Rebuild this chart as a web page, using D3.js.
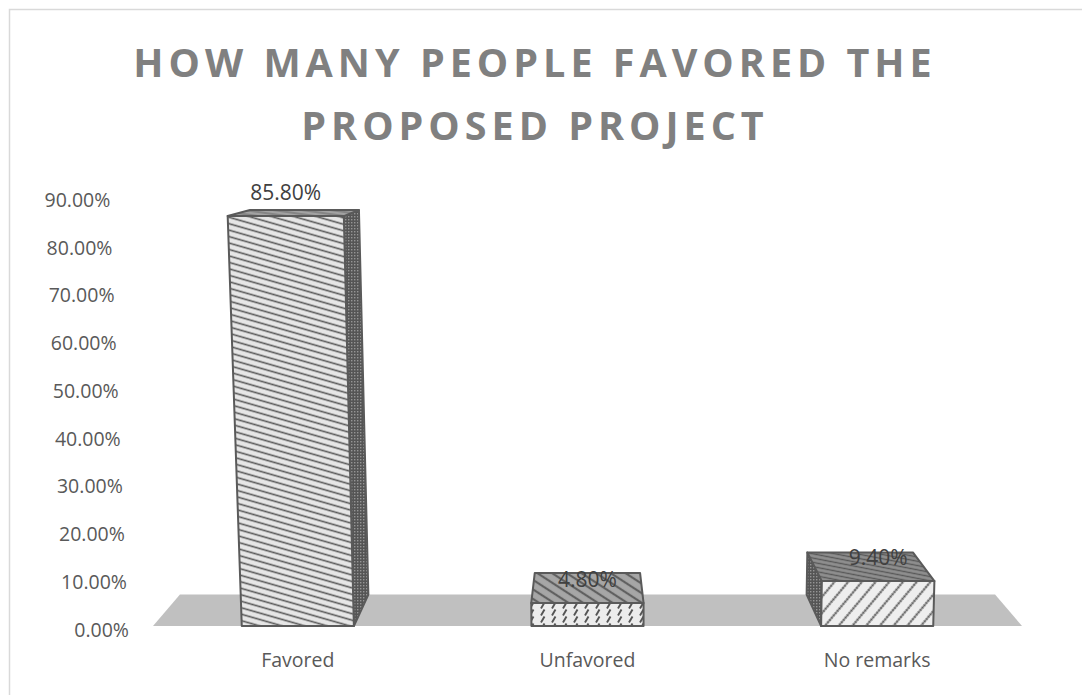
<!DOCTYPE html>
<html>
<head>
<meta charset="utf-8">
<script src="https://cdn.jsdelivr.net/npm/d3@7"></script>
<style>
  html, body { margin: 0; padding: 0; background: #ffffff; }
  svg { display: block; }
</style>
</head>
<body>
<svg id="chart" width="1082" height="695"></svg>
<script>
// ---- data ----
const categories = ["Favored", "Unfavored", "No remarks"];
const values = [0.858, 0.048, 0.094];
const valueLabels = ["85.80%", "4.80%", "9.40%"];
const tickValues = [0, 0.1, 0.2, 0.3, 0.4, 0.5, 0.6, 0.7, 0.8, 0.9];
const titleLines = ["HOW MANY PEOPLE FAVORED THE", "PROPOSED PROJECT"];

// ---- layout ----
const svg = d3.select("#chart");
const FONT = "'Open Sans', Lato, 'DejaVu Sans', sans-serif";

const x = d3.scaleBand().domain(categories).range([153, 1022]).paddingInner(0.613).paddingOuter(0.3065);
const y = d3.scaleLinear().domain([0, 0.9]).range([626, 196]);

// perspective parameters
const vx = (x.range()[0] + x.range()[1]) / 2, vy = 119;   // depth vanishing point
const depthScale = 0.938;                                   // scale of back plane
const kx = 633, ky = 12000;                                  // vertical keystone point
const yBase = y(0);

function proj(px, py, d) {
  const kxp = kx + (px - kx) * (ky - py) / (ky - yBase);
  const s = 1 - d * (1 - depthScale);
  return [vx + (kxp - vx) * s, vy + (py - vy) * s];
}
const poly = pts => pts.map(p => p.join(",")).join(" ");

// ---- patterns ----
const defs = svg.append("defs");
function linePattern(id, w, h, rot, bg, stroke, sw) {
  const p = defs.append("pattern").attr("id", id).attr("patternUnits", "userSpaceOnUse")
    .attr("width", w).attr("height", h).attr("patternTransform", `rotate(${rot})`);
  p.append("rect").attr("width", w).attr("height", h).attr("fill", bg);
  p.append("line").attr("x1", 0).attr("x2", w).attr("y1", h / 2).attr("y2", h / 2)
    .attr("stroke", stroke).attr("stroke-width", sw);
}
linePattern("favFront", 8, 6.2, 16, "#e6e6e6", "#5a5a5a", 1.6);
linePattern("favTop", 6, 4, 8, "#a2a2a2", "#727272", 1.2);
linePattern("unfTop", 10, 8, 33, "#a6a6a6", "#606060", 2.2);
linePattern("nrTop", 6, 4.2, 11, "#8e8e8e", "#585858", 1.3);

// dotted dark side
{
  const p = defs.append("pattern").attr("id", "dotSide").attr("patternUnits", "userSpaceOnUse")
    .attr("width", 3).attr("height", 3);
  p.append("rect").attr("width", 3).attr("height", 3).attr("fill", "#555555");
  p.append("rect").attr("width", 1.4).attr("height", 1.4).attr("fill", "#959595");
}
// dashed upward diagonal (Unfavored front)
{
  const p = defs.append("pattern").attr("id", "unfFront").attr("patternUnits", "userSpaceOnUse")
    .attr("width", 11).attr("height", 7);
  p.append("rect").attr("width", 11).attr("height", 7).attr("fill", "#ececec");
  p.append("line").attr("x1", 2).attr("y1", 6.5).attr("x2", 5.5).attr("y2", 0.5)
    .attr("stroke", "#555").attr("stroke-width", 1.9);
}
// dotted diagonal lines (No remarks front)
{
  const p = defs.append("pattern").attr("id", "nrFront").attr("patternUnits", "userSpaceOnUse")
    .attr("width", 12).attr("height", 10.5).attr("patternTransform", "rotate(-50)");
  p.append("rect").attr("width", 12).attr("height", 10.5).attr("fill", "#eeeeee");
  [1.5, 4.5, 7.5, 10.5].forEach(cx => p.append("circle").attr("cx", cx).attr("cy", 5.25)
    .attr("r", 1.3).attr("fill", "#5a5a5a"));
}

const faceStyles = [
  { front: "favFront", top: "favTop", side: "dotSide" },
  { front: "unfFront", top: "unfTop", side: "dotSide" },
  { front: "nrFront", top: "nrTop", side: "dotSide" }
];

// ---- chart border ----
svg.append("rect").attr("x", 9.5).attr("y", 9.5).attr("width", 1100).attr("height", 700)
  .attr("fill", "#fff").attr("stroke", "#d9d9d9").attr("stroke-width", 1.5);

// ---- title ----
svg.append("g").selectAll("text").data(titleLines).join("text")
  .attr("x", 535).attr("y", (d, i) => 77 + i * 63)
  .attr("text-anchor", "middle")
  .attr("font-family", "'Open Sans', Lato, sans-serif").attr("font-weight", 700)
  .attr("font-size", 39.5).attr("letter-spacing", 5)
  .attr("fill", "#808080").text(d => d);

// ---- floor ----
const fx0 = x.range()[0], fx1 = x.range()[1];
svg.append("polygon")
  .attr("points", poly([proj(fx0, yBase, 0), proj(fx1, yBase, 0), proj(fx1, yBase, 1), proj(fx0, yBase, 1)]))
  .attr("fill", "#c0c0c0");

// ---- y axis labels (follow the slanted axis) ----
svg.append("g").selectAll("text").data(tickValues).join("text")
  .attr("x", d => proj(141, y(d), 0)[0] - 12).attr("y", d => y(d) + 4)
  .attr("dy", "0.35em").attr("text-anchor", "end")
  .attr("font-family", FONT).attr("font-size", 19.5).attr("fill", "#595959")
  .text(d => d3.format(".2%")(d));

// ---- bars ----
const bars = svg.append("g");
categories.forEach((c, i) => {
  const x0 = x(c), x1 = x0 + x.bandwidth();
  const yb = y(0), yt = y(values[i]);
  const st = faceStyles[i];
  const g = bars.append("g").attr("stroke", "#5a5a5a").attr("stroke-width", 2).attr("stroke-linejoin", "round");
  const frontL = proj(x0, yb, 0)[0], frontR = proj(x1, yb, 0)[0];
  if (frontR < vx) {
    g.append("polygon").attr("points", poly([proj(x1, yb, 0), proj(x1, yt, 0), proj(x1, yt, 1), proj(x1, yb, 1)]))
      .attr("fill", `url(#${st.side})`);
  }
  if (frontL > vx) {
    g.append("polygon").attr("points", poly([proj(x0, yb, 0), proj(x0, yt, 0), proj(x0, yt, 1), proj(x0, yb, 1)]))
      .attr("fill", `url(#${st.side})`);
  }
  g.append("polygon").attr("points", poly([proj(x0, yt, 0), proj(x1, yt, 0), proj(x1, yt, 1), proj(x0, yt, 1)]))
    .attr("fill", `url(#${st.top})`);
  g.append("polygon").attr("points", poly([proj(x0, yb, 0), proj(x1, yb, 0), proj(x1, yt, 0), proj(x0, yt, 0)]))
    .attr("fill", `url(#${st.front})`);
});

// ---- data labels ----
svg.append("g").selectAll("text").data(values).join("text")
  .attr("x", (d, i) => { const a = proj(x(categories[i]), y(d), 0), b = proj(x(categories[i]) + x.bandwidth(), y(d), 0); return (a[0] + b[0]) / 2; })
  .attr("y", d => y(d) - 16)
  .attr("text-anchor", "middle")
  .attr("font-family", FONT).attr("font-size", 21).attr("fill", "#404040")
  .text((d, i) => valueLabels[i]);

// ---- category labels ----
svg.append("g").selectAll("text").data(categories).join("text")
  .attr("x", d => x(d) + x.bandwidth() / 2).attr("y", 667)
  .attr("text-anchor", "middle")
  .attr("font-family", FONT).attr("font-size", 19.5).attr("fill", "#595959")
  .text(d => d);
</script>
</body>
</html>
